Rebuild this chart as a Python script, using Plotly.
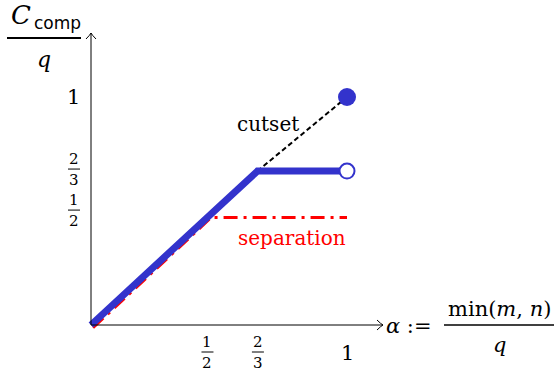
import plotly.graph_objects as go

# ---- data ----
blue_x = [0.0, 0.65, 1.0]
blue_y = [0.0, 0.675, 0.675]
red_x = [0.008, 0.47, 1.0]
red_y = [-0.012, 0.472, 0.472]
cut_x = [0.65, 1.0]
cut_y = [0.675, 1.0]
filled_pt = (1.0, 1.0)
open_pt = (1.0, 0.675)

xtick_vals = [0.455, 0.652, 1.0]
xtick_num = ["1", "2", None]
xtick_den = ["2", "3", None]
xtick_whole = [None, None, "1"]
ytick_vals = [0.504, 0.684, 1.0]
ytick_num = ["1", "2", None]
ytick_den = ["2", "3", None]
ytick_whole = [None, None, "1"]

BLUE = "#3333cc"
RED = "#ff0000"
SERIF = "DejaVu Serif"
SANS = "DejaVu Sans"

W, H = 556, 379
L, R, T, B = 83, 173, 33, 46
PW, PH = W - L - R, H - T - B
XR = [-8 / 256, 292 / 256]
YR = [-8 / 228, 292 / 228]
XMAX, YMAX = XR[1], YR[1]


def px(x):
    return (x - L) / PW


def py(y):
    return (H - B - y) / PH


def dx(v):
    return (v - XR[0]) / (XR[1] - XR[0])


def dy(v):
    return (v - YR[0]) / (YR[1] - YR[0])


fig = go.Figure()
fig.add_trace(go.Scatter(x=red_x, y=red_y, mode="lines",
                         line=dict(color=RED, width=3, dash="14px,6px,3px,6px"),
                         hoverinfo="skip"))
fig.add_trace(go.Scatter(x=cut_x, y=cut_y, mode="lines",
                         line=dict(color="black", width=2, dash="5px,3px"),
                         hoverinfo="skip"))
fig.add_trace(go.Scatter(x=blue_x, y=blue_y, mode="lines",
                         line=dict(color=BLUE, width=7), hoverinfo="skip"))
fig.add_trace(go.Scatter(x=[filled_pt[0]], y=[filled_pt[1]], mode="markers",
                         marker=dict(size=18, color=BLUE, line=dict(width=0)),
                         hoverinfo="skip", cliponaxis=False))
fig.add_trace(go.Scatter(x=[open_pt[0]], y=[open_pt[1]], mode="markers",
                         marker=dict(size=15, color="white", line=dict(width=2, color=BLUE)),
                         hoverinfo="skip", cliponaxis=False))

shapes = []
ann = []
LINE = dict(color="black", width=1)
# axes
shapes.append(dict(type="line", xref="paper", yref="paper", x0=dx(0), y0=dy(0),
                   x1=dx(XMAX), y1=dy(0), line=LINE))
shapes.append(dict(type="line", xref="paper", yref="paper", x0=dx(0), y0=dy(0),
                   x1=dx(0), y1=dy(YMAX), line=LINE))
# arrowheads (open chevrons)
shapes.append(dict(type="path", xref="paper", yref="paper", xsizemode="pixel", ysizemode="pixel",
                   xanchor=dx(XMAX), yanchor=dy(0), path="M -6 5 Q -2 1 0 0 Q -2 -1 -6 -5",
                   line=LINE))
shapes.append(dict(type="path", xref="paper", yref="paper", xsizemode="pixel", ysizemode="pixel",
                   xanchor=dx(0), yanchor=dy(YMAX), path="M -5 -6 Q -1 -2 0 0 Q 1 -2 5 -6",
                   line=LINE))

TXT = dict(showarrow=False, xanchor="center", yanchor="middle")

# x tick labels
for v, n, d, w in zip(xtick_vals, xtick_num, xtick_den, xtick_whole):
    if w is not None:
        ann.append(dict(x=dx(v), y=dy(0), xref="paper", yref="paper", yshift=-28, text=w,
                        font=dict(family=SERIF, size=21, color="black"), **TXT))
    else:
        ann.append(dict(x=dx(v), y=dy(0), xref="paper", yref="paper", yshift=-17, text=n,
                        font=dict(family=SERIF, size=15, color="black"), **TXT))
        ann.append(dict(x=dx(v), y=dy(0), xref="paper", yref="paper", yshift=-38, text=d,
                        font=dict(family=SERIF, size=15, color="black"), **TXT))
        shapes.append(dict(type="line", xref="paper", yref="paper", xsizemode="pixel",
                           ysizemode="pixel", xanchor=dx(v), yanchor=dy(0),
                           x0=-6, x1=6, y0=-27, y1=-27, line=LINE))
# y tick labels
for v, n, d, w in zip(ytick_vals, ytick_num, ytick_den, ytick_whole):
    if w is not None:
        ann.append(dict(x=dx(0), y=dy(v), xref="paper", yref="paper", xshift=-18, text=w,
                        font=dict(family=SERIF, size=21, color="black"), **TXT))
    else:
        ann.append(dict(x=dx(0), y=dy(v), xref="paper", yref="paper", xshift=-17, yshift=10,
                        text=n, font=dict(family=SERIF, size=15, color="black"), **TXT))
        ann.append(dict(x=dx(0), y=dy(v), xref="paper", yref="paper", xshift=-17, yshift=-11,
                        text=d, font=dict(family=SERIF, size=15, color="black"), **TXT))
        shapes.append(dict(type="line", xref="paper", yref="paper", xsizemode="pixel",
                           ysizemode="pixel", xanchor=dx(0), yanchor=dy(v),
                           x0=-23, x1=-11, y0=0, y1=0, line=LINE))

# curve labels
ann.append(dict(x=px(268), y=py(124), xref="paper", yref="paper", text="cutset",
                font=dict(family=SERIF, size=20, color="black"), **TXT))
ann.append(dict(x=px(292), y=py(238), xref="paper", yref="paper", text="separation",
                font=dict(family=SERIF, size=20, color=RED), **TXT))

# y-axis title: C_comp / q
ann.append(dict(x=px(21), y=py(15), xref="paper", yref="paper", text="<i>C</i>",
                font=dict(family=SERIF, size=26, color="black"), **TXT))
ann.append(dict(x=px(57), y=py(23), xref="paper", yref="paper", text="comp",
                font=dict(family=SANS, size=17, color="black"), **TXT))
shapes.append(dict(type="line", xref="paper", yref="paper", x0=px(7), x1=px(81),
                   y0=py(38), y1=py(38), line=dict(color="black", width=2)))
ann.append(dict(x=px(44), y=py(59), xref="paper", yref="paper", text="<i>q</i>",
                font=dict(family=SERIF, size=22, color="black"), **TXT))

# x-axis title: alpha := min(m,n)/q
ann.append(dict(x=px(384), y=py(326), xref="paper", yref="paper", xanchor="left",
                yanchor="middle", text="<i>α</i> :=", showarrow=False,
                font=dict(family=SERIF, size=21, color="black")))
ann.append(dict(x=px(499), y=py(309), xref="paper", yref="paper",
                text="min(<i>m</i>, <i>n</i>)",
                font=dict(family=SERIF, size=21, color="black"), **TXT))
shapes.append(dict(type="line", xref="paper", yref="paper", x0=px(444), x1=px(554),
                   y0=py(325), y1=py(325), line=dict(color="black", width=1.5)))
ann.append(dict(x=px(500), y=py(345), xref="paper", yref="paper", text="<i>q</i>",
                font=dict(family=SERIF, size=21, color="black"), **TXT))

fig.update_layout(
    width=W, height=H,
    margin=dict(l=L, r=R, t=T, b=B, pad=0),
    paper_bgcolor="white", plot_bgcolor="white",
    showlegend=False,
    xaxis=dict(range=XR, visible=False, fixedrange=True),
    yaxis=dict(range=YR, visible=False, fixedrange=True),
    shapes=shapes, annotations=ann,
)

fig.write_html("out.html", config={"displayModeBar": False},
               post_script="document.body.style.margin='0';document.body.style.padding='0';")
